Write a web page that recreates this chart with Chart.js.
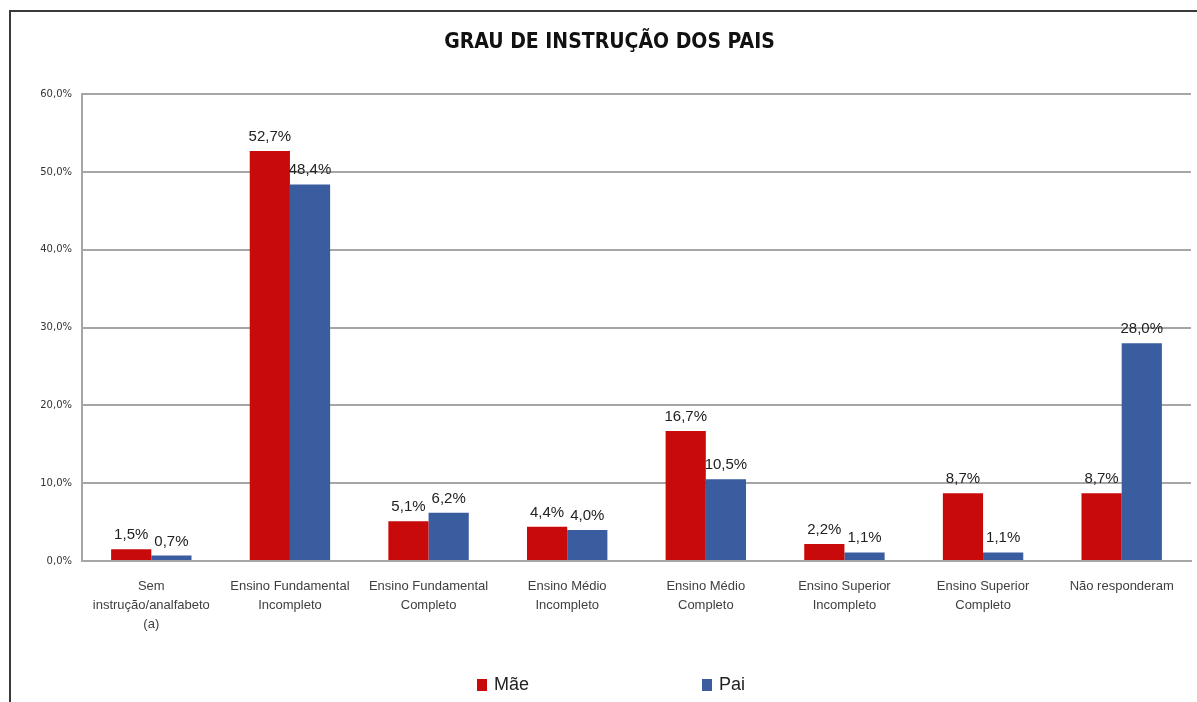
<!DOCTYPE html>
<html>
<head>
<meta charset="utf-8">
<script src="https://cdn.jsdelivr.net/npm/chart.js@4/dist/chart.umd.min.js"></script>
<style>
  html, body { margin: 0; padding: 0; background: #fff; }
  #wrap { position: relative; width: 1197px; height: 702px; }
  #frame {
    position: absolute; left: 9px; top: 10px; right: 0; bottom: 0;
    border-left: 2px solid #3a3a3a; border-top: 2px solid #3a3a3a;
    pointer-events: none;
  }
  canvas { position: absolute; left: 0; top: 0; }
</style>
</head>
<body>
<div id="wrap">
  <canvas id="chart" width="1197" height="702"></canvas>
  <div id="frame"></div>
</div>
<script>
// =========================
// DATA
// =========================
const categories = [
    ['Sem', 'instrução/analfabeto', '(a)'],
    ['Ensino Fundamental', 'Incompleto'],
    ['Ensino Fundamental', 'Completo'],
    ['Ensino Médio', 'Incompleto'],
    ['Ensino Médio', 'Completo'],
    ['Ensino Superior', 'Incompleto'],
    ['Ensino Superior', 'Completo'],
    ['Não responderam']
];
const maeValues = [1.5, 52.7, 5.1, 4.4, 16.7, 2.2, 8.7, 8.7];
const paiValues = [0.7, 48.4, 6.2, 4.0, 10.5, 1.1, 1.1, 28.0];
const seriesNames = ['Mãe', 'Pai'];
const seriesColors = ['#C80A0A', '#3A5DA0'];
const chartTitle = 'GRAU DE INSTRUÇÃO DOS PAIS';

const fmt = v => v.toFixed(1).replace('.', ',') + '%';

// =========================
// PLUGINS
// =========================
// value labels above each bar
const barLabels = {
    id: 'barLabels',
    afterDatasetsDraw(chart) {
        const ctx = chart.ctx;
        ctx.save();
        ctx.font = '15px "Liberation Sans", Arial, sans-serif';
        ctx.fillStyle = '#222';
        ctx.textAlign = 'center';
        ctx.textBaseline = 'alphabetic';
        chart.data.datasets.forEach((ds, i) => {
            chart.getDatasetMeta(i).data.forEach((bar, j) => {
                ctx.fillText(fmt(ds.data[j]), bar.x, bar.y - 10);
            });
        });
        ctx.restore();
    }
};

// legend drawn at the bottom, items spread apart like the original
const bottomLegend = {
    id: 'bottomLegend',
    afterDraw(chart) {
        const ctx = chart.ctx;
        const xs = [477, 702];
        const y = 685;
        ctx.save();
        ctx.font = '18px "Liberation Sans", Arial, sans-serif';
        ctx.textBaseline = 'middle';
        ctx.textAlign = 'left';
        chart.data.datasets.forEach((ds, i) => {
            ctx.fillStyle = ds.backgroundColor;
            ctx.fillRect(xs[i], y - 6, 10, 12);
            ctx.fillStyle = '#222';
            ctx.fillText(ds.label, xs[i] + 17, y);
        });
        ctx.restore();
    }
};

// =========================
// CHART
// =========================
new Chart(document.getElementById('chart'), {
    type: 'bar',
    data: {
        labels: categories,
        datasets: [
            { label: seriesNames[0], data: maeValues, backgroundColor: seriesColors[0] },
            { label: seriesNames[1], data: paiValues, backgroundColor: seriesColors[1] }
        ]
    },
    options: {
        responsive: false,
        animation: false,
        layout: { padding: { top: 0, right: 6, bottom: 0, left: 28 } },
        datasets: { bar: { categoryPercentage: 0.58, barPercentage: 1 } },
        plugins: {
            legend: { display: false },
            tooltip: { enabled: false },
            title: {
                display: true,
                text: chartTitle,
                color: '#111',
                font: { family: '"DejaVu Sans Condensed", "DejaVu Sans", sans-serif', size: 21, weight: 'bold' },
                padding: { top: 30, bottom: 39 }
            }
        },
        scales: {
            x: {
                grid: { display: false, drawTicks: false },
                border: { color: '#a6a6a6', width: 2 },
                ticks: {
                    color: '#404040',
                    padding: 16,
                    maxRotation: 0,
                    autoSkip: false,
                    font: { family: '"Liberation Sans", Arial, sans-serif', size: 13, lineHeight: 1.45 }
                },
                afterFit(scale) { scale.height = 141; }
            },
            y: {
                min: 0,
                max: 60,
                ticks: {
                    stepSize: 10,
                    padding: 10,
                    color: '#333',
                    font: { family: '"DejaVu Sans", Verdana, sans-serif', size: 10 },
                    callback: v => fmt(v)
                },
                grid: { color: '#a6a6a6', lineWidth: 2, drawTicks: false },
                border: { color: '#a6a6a6', width: 2 },
                afterFit(scale) { scale.width = 54; }
            }
        }
    },
    plugins: [barLabels, bottomLegend]
});
</script>
</body>
</html>
